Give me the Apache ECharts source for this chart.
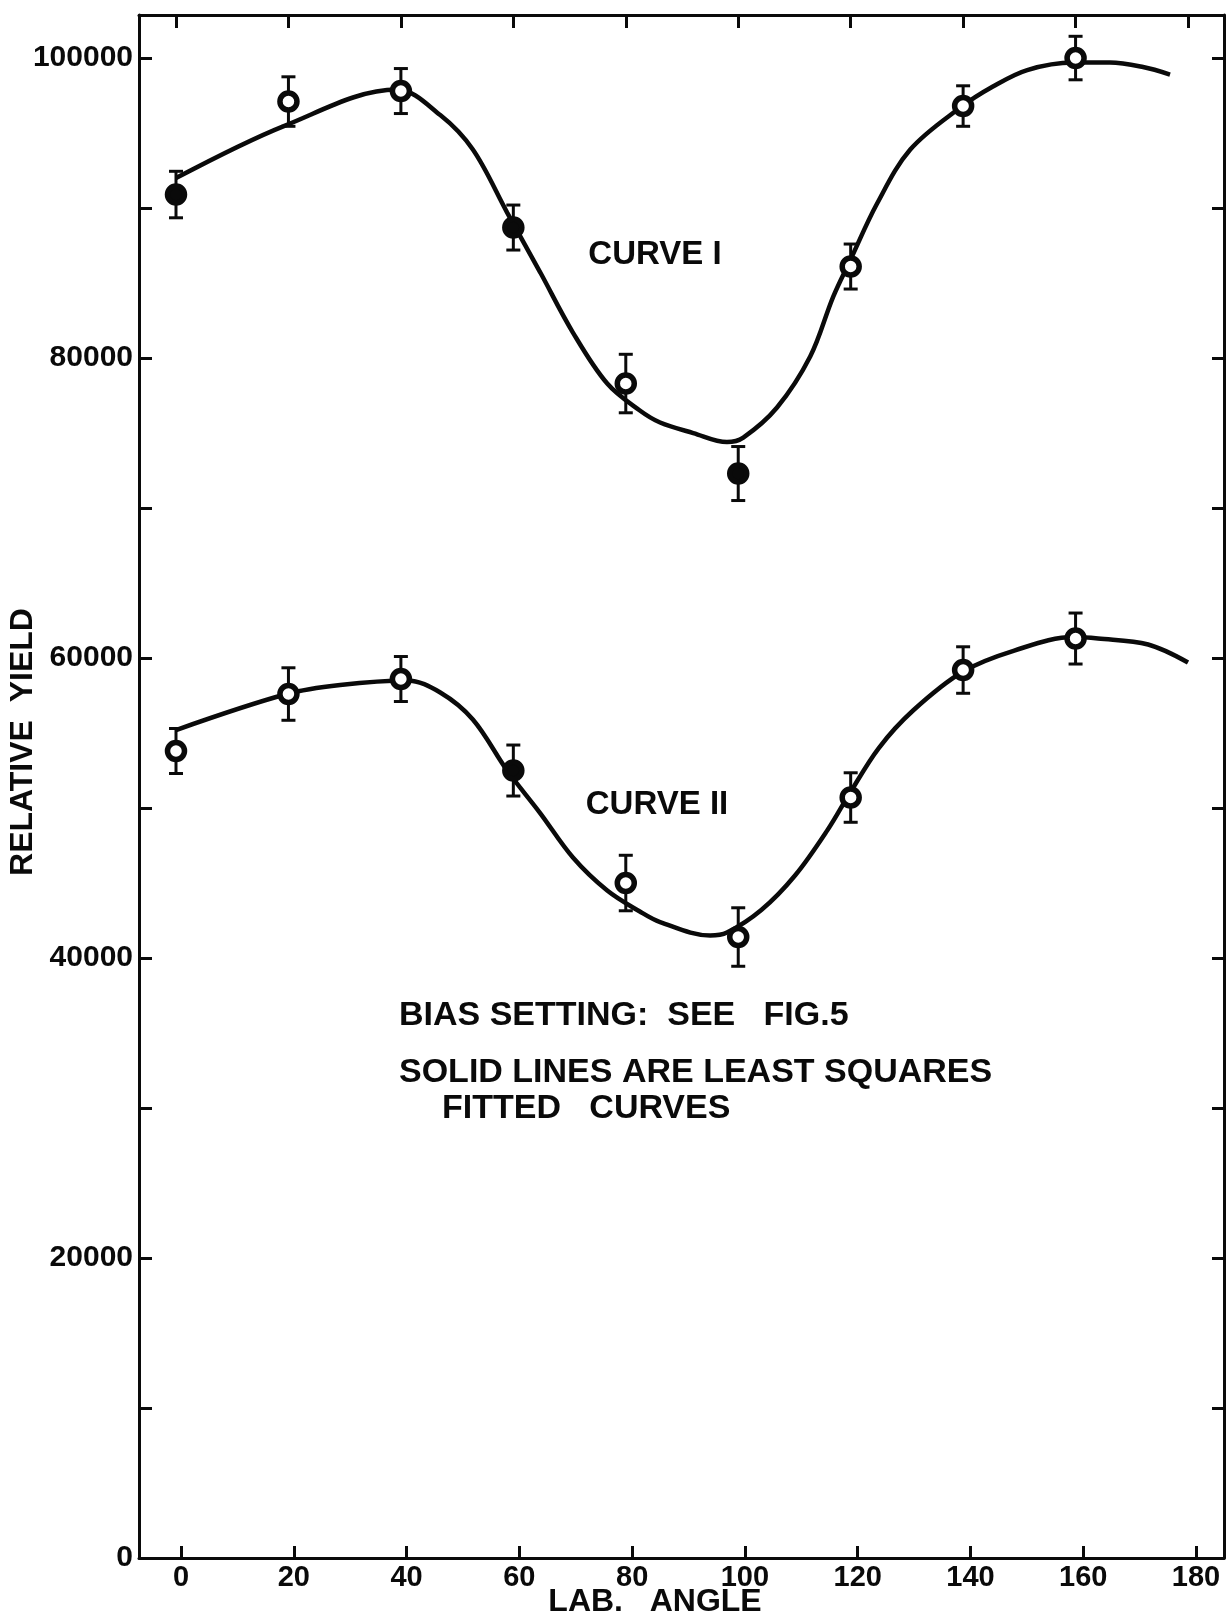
<!DOCTYPE html>
<html>
<head>
<meta charset="utf-8">
<script src="https://cdn.jsdelivr.net/npm/echarts@6/dist/echarts.min.js"></script>
<style>
html,body{margin:0;padding:0;background:#fff;}
#chart{width:1228px;height:1618px;}
</style>
</head>
<body>
<div id="chart"></div>
<script>
// ---- data ----
const tickAngles = [0, 20, 40, 60, 80, 100, 120, 140, 160, 180];
const yLabelValues = [0, 20000, 40000, 60000, 80000, 100000];
const yTickValues = [0, 10000, 20000, 30000, 40000, 50000, 60000, 70000, 80000, 90000, 100000];

const pointAngles = [0, 20, 40, 60, 80, 100, 120, 140, 160];
const yieldI  = [90900, 97100, 97800, 88700, 78300, 72300, 86100, 96800, 100000];
const errI    = [1550, 1650, 1500, 1500, 1950, 1800, 1500, 1350, 1450];
const yieldII = [53800, 57600, 58600, 52500, 45000, 41400, 50700, 59200, 61300];
const errII   = [1500, 1750, 1500, 1700, 1850, 1950, 1650, 1550, 1700];
const solidI  = [0, 3, 5];
const solidII = [3];

const fitAngleI = [0, 19.4, 39.3, 47, 52.8, 58.9, 64.8, 70.6, 76.7, 82.5, 86.1, 92, 98, 100.9, 106.9, 112.8, 116.9, 119.9, 124.7, 130.6, 139.5, 145.3, 151.4, 159.6, 166.1, 172, 176.8];
const fitYieldI = [92000, 95500, 97900, 96200, 93900, 89700, 85700, 81700, 78300, 76500, 75700, 75000, 74400, 74700, 76700, 80100, 84100, 86500, 90300, 93900, 96700, 98100, 99200, 99700, 99700, 99400, 98900];
const fitAngleII = [0, 19.7, 29.2, 41.1, 47, 52.8, 58.9, 64.7, 70.6, 76.7, 82.5, 86.1, 95, 98, 104.1, 110.1, 116, 119.7, 125, 131.1, 140, 149.1, 159.7, 164, 172.9, 180];
const fitYieldII = [55200, 57600, 58200, 58500, 57700, 55900, 52500, 49700, 46700, 44500, 43100, 42400, 41500, 41700, 43200, 45500, 48600, 50900, 54000, 56500, 59100, 60500, 61400, 61300, 60900, 59700];

// ---- build ----
const INK = '#0a0a0a';
const FONT = '"Liberation Sans", Arial, sans-serif';
const zip = (a, b) => a.map((v, i) => [v, b[i]]);
const errData = (ys, es) => pointAngles.map((a, i) => [a, ys[i], es[i]]);
const ptData = (ys, solid) => pointAngles.map((a, i) => ({
  value: [a, ys[i]],
  itemStyle: solid.indexOf(i) >= 0 ? { color: INK } : undefined
}));

function renderErr(params, api) {
  const x = api.value(0), y = api.value(1), e = api.value(2);
  const t = api.coord([x, y + e]);
  const b = api.coord([x, y - e]);
  const hw = 7;
  const st = { stroke: INK, lineWidth: 3 };
  return {
    type: 'group',
    children: [
      { type: 'line', shape: { x1: t[0], y1: t[1], x2: b[0], y2: b[1] }, style: st },
      { type: 'line', shape: { x1: t[0] - hw, y1: t[1], x2: t[0] + hw, y2: t[1] }, style: st },
      { type: 'line', shape: { x1: b[0] - hw, y1: b[1], x2: b[0] + hw, y2: b[1] }, style: st }
    ]
  };
}

const axisLineStyle = { show: true, onZero: false, lineStyle: { color: INK, width: 3 } };
const tickStyle = { color: INK, width: 3 };

const option = {
  backgroundColor: '#fff',
  animation: false,
  grid: { left: 139, right: 4, top: 15, bottom: 60, containLabel: false, outerBoundsMode: 'none' },
  xAxis: [
    {
      type: 'value', position: 'bottom', min: -7.45, max: 184.96,
      axisLine: axisLineStyle,
      axisTick: { show: true, inside: true, length: 12, lineStyle: tickStyle, customValues: tickAngles },
      axisLabel: { customValues: tickAngles, formatter: v => String(v), color: INK, fontSize: 29, fontWeight: 'bold', fontFamily: FONT, margin: 5 },
      splitLine: { show: false }
    },
    {
      type: 'value', position: 'top', min: -6.58, max: 186.4,
      axisLine: axisLineStyle,
      axisTick: { show: true, inside: true, length: 13, lineStyle: tickStyle, customValues: tickAngles },
      axisLabel: { show: false },
      splitLine: { show: false }
    }
  ],
  yAxis: [
    {
      type: 'value', position: 'left', min: 0, max: 102870,
      axisLine: axisLineStyle,
      axisTick: { show: true, inside: true, length: 13, lineStyle: tickStyle, customValues: yTickValues },
      axisLabel: { customValues: yLabelValues, formatter: v => String(v), color: INK, fontSize: 30, fontWeight: 'bold', fontFamily: FONT, margin: 6 },
      splitLine: { show: false }
    },
    {
      type: 'value', position: 'right', min: 0, max: 102870,
      axisLine: axisLineStyle,
      axisTick: { show: true, inside: true, length: 12, lineStyle: tickStyle, customValues: yTickValues },
      axisLabel: { show: false },
      splitLine: { show: false }
    }
  ],
  series: [
    { type: 'line', xAxisIndex: 1, yAxisIndex: 0, data: zip(fitAngleI, fitYieldI), smooth: 0.35, symbol: 'none', lineStyle: { color: INK, width: 4.5 }, z: 2 },
    { type: 'line', xAxisIndex: 1, yAxisIndex: 0, data: zip(fitAngleII, fitYieldII), smooth: 0.35, symbol: 'none', lineStyle: { color: INK, width: 4.5 }, z: 2 },
    { type: 'custom', xAxisIndex: 1, yAxisIndex: 0, data: errData(yieldI, errI), renderItem: renderErr, z: 3 },
    { type: 'custom', xAxisIndex: 1, yAxisIndex: 0, data: errData(yieldII, errII), renderItem: renderErr, z: 3 },
    { type: 'scatter', xAxisIndex: 1, yAxisIndex: 0, data: ptData(yieldI, solidI), symbol: 'circle', symbolSize: 17, itemStyle: { color: '#fff', borderColor: INK, borderWidth: 5.5, opacity: 1 }, z: 4 },
    { type: 'scatter', xAxisIndex: 1, yAxisIndex: 0, data: ptData(yieldII, solidII), symbol: 'circle', symbolSize: 17, itemStyle: { color: '#fff', borderColor: INK, borderWidth: 5.5, opacity: 1 }, z: 4 }
  ],
  graphic: [
    { type: 'text', x: 655, y: 255, style: { text: 'CURVE I', font: 'bold 33px ' + FONT, fill: INK, textAlign: 'center', textVerticalAlign: 'middle' } },
    { type: 'text', x: 657, y: 805, style: { text: 'CURVE II', font: 'bold 33px ' + FONT, fill: INK, textAlign: 'center', textVerticalAlign: 'middle' } },
    { type: 'text', x: 399, y: 1016, style: { text: 'BIAS SETTING:  SEE   FIG.5', font: 'bold 34px ' + FONT, fill: INK, textAlign: 'left', textVerticalAlign: 'middle' } },
    { type: 'text', x: 399, y: 1073, style: { text: 'SOLID LINES ARE LEAST SQUARES', font: 'bold 34px ' + FONT, fill: INK, textAlign: 'left', textVerticalAlign: 'middle' } },
    { type: 'text', x: 442, y: 1109, style: { text: 'FITTED   CURVES', font: 'bold 34px ' + FONT, fill: INK, textAlign: 'left', textVerticalAlign: 'middle' } },
    { type: 'text', x: 655, y: 1602, style: { text: 'LAB.   ANGLE', font: 'bold 32px ' + FONT, fill: INK, textAlign: 'center', textVerticalAlign: 'middle' } },
    { type: 'text', x: 23, y: 742, rotation: Math.PI / 2, style: { text: 'RELATIVE  YIELD', font: 'bold 32px ' + FONT, fill: INK, textAlign: 'center', textVerticalAlign: 'middle' } }
  ]
};

const chart = echarts.init(document.getElementById('chart'), null, { renderer: 'canvas' });
chart.setOption(option);
</script>
</body>
</html>
